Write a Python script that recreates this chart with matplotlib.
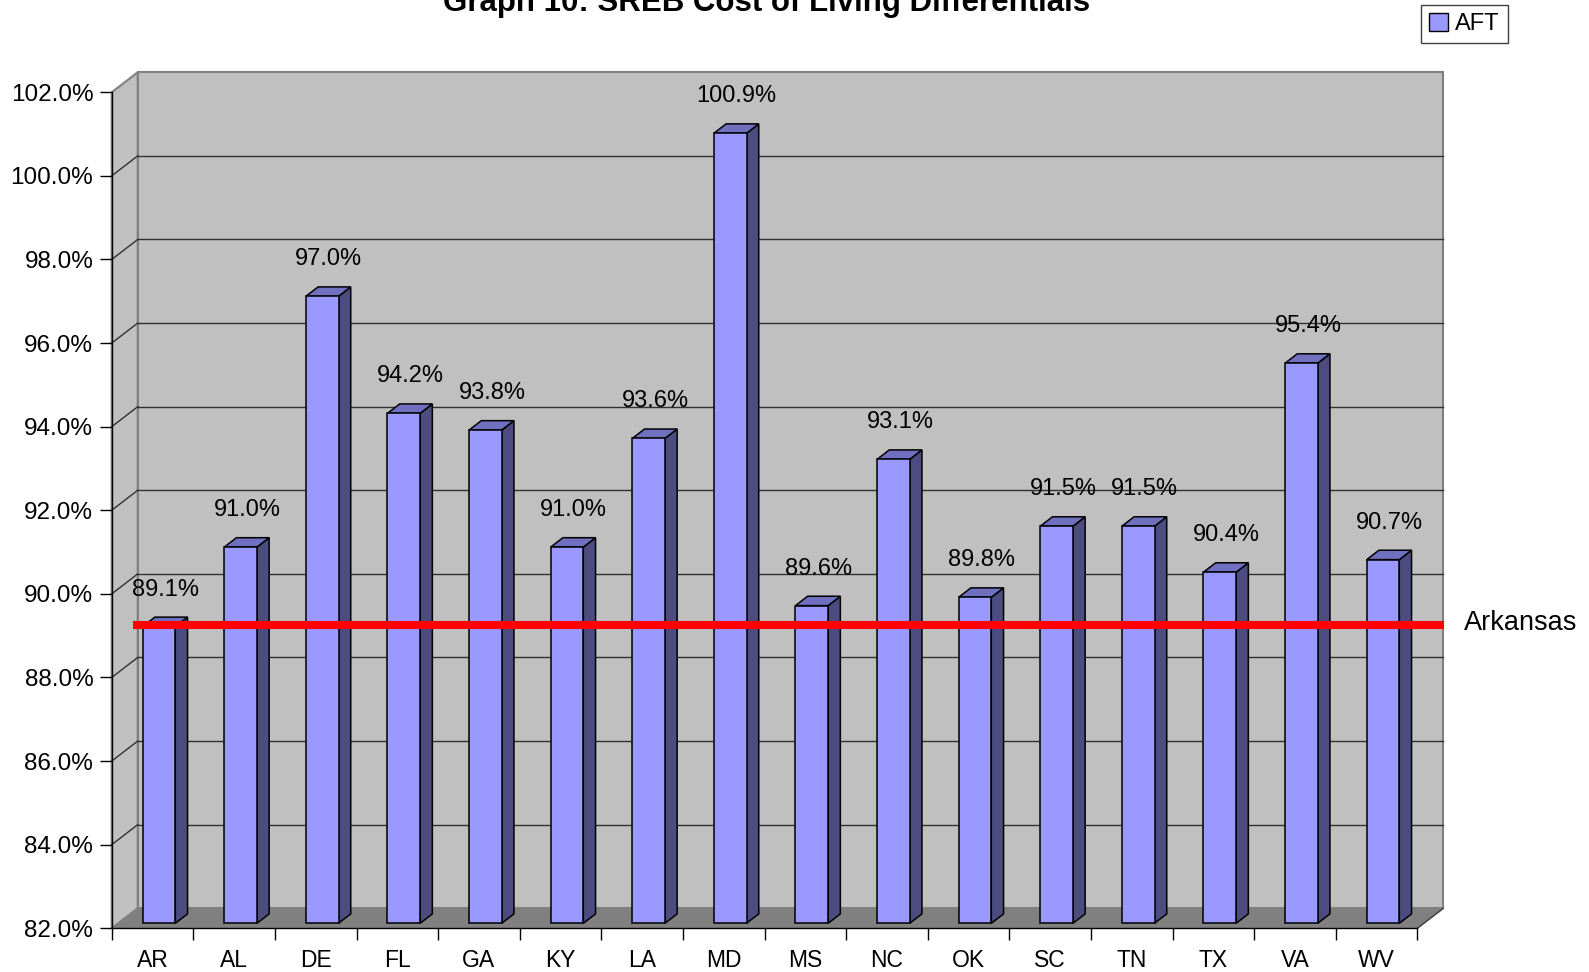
import numpy as np
import matplotlib.pyplot as plt
from matplotlib.patches import Polygon, Patch
from matplotlib.transforms import IdentityTransform

plt.rcParams['font.family'] = ['Liberation Sans', 'DejaVu Sans']

# data
states = ['AR', 'AL', 'DE', 'FL', 'GA', 'KY', 'LA', 'MD',
          'MS', 'NC', 'OK', 'SC', 'TN', 'TX', 'VA', 'WV']
aft = [89.1, 91.0, 97.0, 94.2, 93.8, 91.0, 93.6, 100.9,
       89.6, 93.1, 89.8, 91.5, 91.5, 90.4, 95.4, 90.7]
arkansas = 89.1
y_ticks = [82, 84, 86, 88, 90, 92, 94, 96, 98, 100, 102]

W, H = 1589, 972
fig = plt.figure(figsize=(W / 100, H / 100), dpi=100)
ax = fig.add_axes([111.7 / W, (H - 928.3) / H, 1305.6 / W, 836 / H])
ax.set_xlim(0, len(states))
ax.set_ylim(y_ticks[0], y_ticks[-1])
ax.patch.set_visible(False)

# 3d depth (pixels)
DX, DY = 26, 20
ident = IdentityTransform()


def P(x, y, z):
    px, py = ax.transData.transform((x, y))
    return (px + z * DX, py + z * DY)


def poly(pts, fc, ec, lw=1.0, z=1):
    ax.add_patch(Polygon(pts, closed=True, facecolor=fc, edgecolor=ec,
                         linewidth=lw, transform=ident, clip_on=False, zorder=z))


def seg(a, b, color, lw=1.0, z=0.8):
    ax.plot([a[0], b[0]], [a[1], b[1]], color=color, lw=lw,
            transform=ident, clip_on=False, zorder=z)


n = len(states)
y0, y1 = y_ticks[0], y_ticks[-1]

# walls and floor
poly([P(0, y0, 1), P(n, y0, 1), P(n, y1, 1), P(0, y1, 1)], '#C0C0C0', '#808080', 1.5, 0.5)
poly([P(0, y0, 0), P(0, y1, 0), P(0, y1, 1), P(0, y0, 1)], '#C0C0C0', '#808080', 1.5, 0.5)
poly([P(0, y0, 0), P(n, y0, 0), P(n, y0, 1), P(0, y0, 1)], '#808080', '#808080', 1.0, 0.6)
seg(P(n, y0, 0), P(n, y0, 1), '#404040', 1.0)

for t in y_ticks[1:-1]:
    seg(P(0, t, 1), P(n, t, 1), '#303030', 1.0)
    seg(P(0, t, 0), P(0, t, 1), '#303030', 1.0)

# bars
bw = 0.4
z0, z1 = 0.25, 0.72
for i, v in enumerate(aft):
    xl, xr = i + 0.5 - bw / 2, i + 0.5 + bw / 2
    poly([P(xr, y0, z0), P(xr, v, z0), P(xr, v, z1), P(xr, y0, z1)], '#4C4C80', 'black', 1.1, 2)
    poly([P(xl, v, z0), P(xr, v, z0), P(xr, v, z1), P(xl, v, z1)], '#7070C0', 'black', 1.1, 2)
    poly([P(xl, y0, z0), P(xr, y0, z0), P(xr, v, z0), P(xl, v, z0)], '#9999FF', 'black', 1.1, 2.1)
    ax.annotate(f'{v:.1f}%', xy=(i + 0.5, v), xytext=(13, 42), textcoords='offset pixels',
                ha='center', va='center', fontsize=17, zorder=4, annotation_clip=False)

# Arkansas reference line
a = P(0, arkansas, 0)
b = P(n, arkansas, 0)
ax.plot([a[0] + 21, b[0] + 26.5], [a[1] + 6.5, b[1] + 6.5], color='#FF0000', lw=5.8,
        solid_capstyle='butt', transform=ident, clip_on=False, zorder=3)
ax.annotate('Arkansas', xy=(n, arkansas), xytext=(47, 8.5), textcoords='offset pixels',
            ha='left', va='center', fontsize=19.5, annotation_clip=False)

# axes
for s in ['top', 'right']:
    ax.spines[s].set_visible(False)
for s in ['left', 'bottom']:
    ax.spines[s].set_color('black')
    ax.spines[s].set_linewidth(1.0)
    ax.spines[s].set_zorder(3)
ax.set_yticks(y_ticks, [f'{t:.1f}%' for t in y_ticks])
ax.tick_params(axis='y', length=8.4, width=1.0, pad=4.8, labelsize=17.5)
ax.set_xticks(np.arange(n + 1), [])
ax.set_xticks(np.arange(n) + 0.5, states, minor=True)
ax.tick_params(axis='x', which='major', length=8.5, width=1.0)
ax.tick_params(axis='x', which='minor', length=0, pad=15, labelsize=16.5)

# title (cut off at top in the original)
fig.text(767 / W, 1 - 11 / H, 'Graph 10: SREB Cost of Living Differentials',
         ha='center', va='baseline', fontsize=22.5, fontweight='bold')

fig.legend(handles=[Patch(facecolor='#9999FF', edgecolor='black')], labels=['AFT'],
           loc='upper right', bbox_to_anchor=(1508 / W, 1 - 4.7 / H), fontsize=17,
           frameon=True, fancybox=False, framealpha=1, edgecolor='#404040',
           handlelength=0.8, handleheight=0.8, handletextpad=0.3, borderpad=0.35,
           borderaxespad=0)

fig.savefig('out.png', dpi=100)
